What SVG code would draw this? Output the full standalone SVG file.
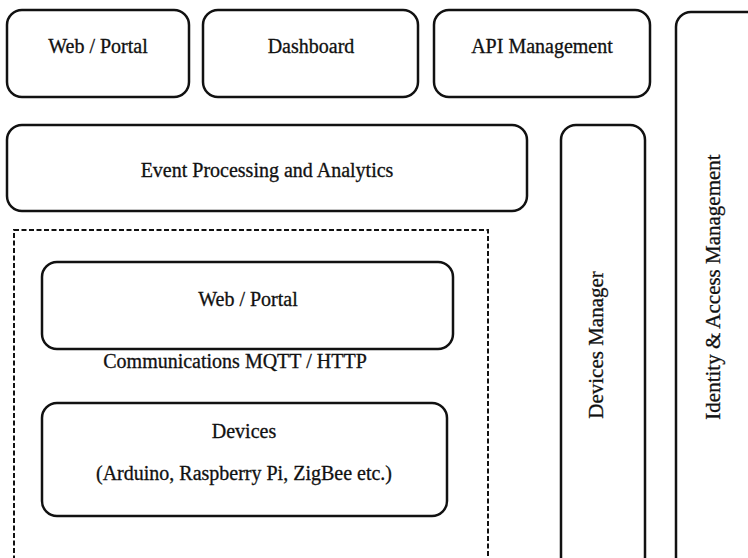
<svg xmlns="http://www.w3.org/2000/svg" width="748" height="558" viewBox="0 0 748 558">
<style>
.box{fill:#fff;stroke:#111;stroke-width:2.5}
.dash{fill:none;stroke:#111;stroke-width:2;stroke-dasharray:5 2.5}
text{font-family:"Liberation Serif","Times New Roman",serif;font-size:20px;fill:#111;stroke:#111;stroke-width:0.3;text-anchor:middle}
.v{font-size:21px}
</style>
<rect width="748" height="558" fill="#fff"/>
<g id="web-portal-top"><rect class="box" x="7" y="10" width="182" height="87" rx="15"/><text x="98" y="53">Web / Portal</text></g>
<g id="dashboard"><rect class="box" x="203" y="10" width="215" height="87" rx="15"/><text x="311" y="53">Dashboard</text></g>
<g id="api-management"><rect class="box" x="434" y="10" width="216" height="87" rx="15"/><text x="542" y="53">API Management</text></g>
<g id="identity"><rect class="box" x="676" y="12" width="90" height="560" rx="15"/><text class="v" transform="translate(720,287) rotate(-90)">Identity &amp; Access Management</text></g>
<g id="event-processing"><rect class="box" x="7" y="125" width="520" height="86" rx="15"/><text x="267" y="177">Event Processing and Analytics</text></g>
<g id="devices-manager"><rect class="box" x="561" y="125" width="84" height="447" rx="15"/><text class="v" transform="translate(603,345) rotate(-90)">Devices Manager</text></g>
<g id="edge-group"><rect class="dash" x="14" y="230" width="474" height="340"/></g>
<g id="web-portal-inner"><rect class="box" x="42" y="262" width="411" height="87" rx="15"/><text x="248" y="306">Web / Portal</text></g>
<g id="communications"><text x="235" y="368">Communications MQTT / HTTP</text></g>
<g id="devices"><rect class="box" x="42" y="403" width="405" height="113" rx="15"/><text x="244" y="438">Devices</text><text x="244" y="480">(Arduino, Raspberry Pi, ZigBee etc.)</text></g>
<g id="connectors"></g>
</svg>
